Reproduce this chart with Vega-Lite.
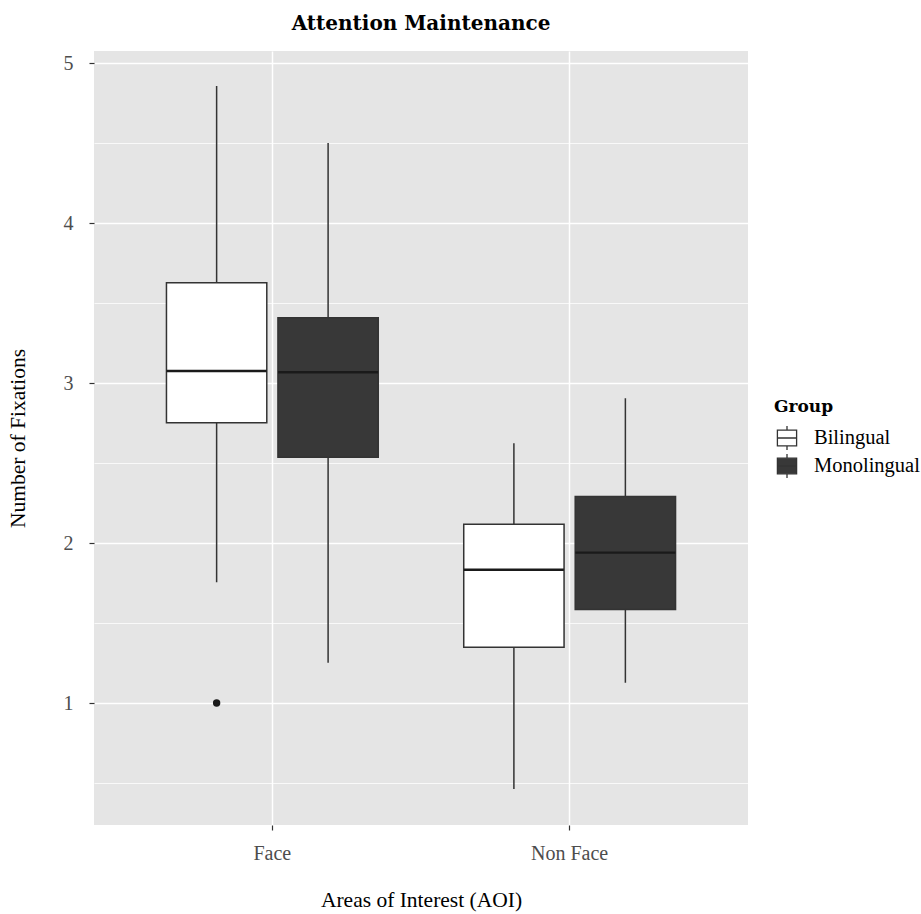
{
  "$schema": "https://vega.github.io/schema/vega-lite/v6.json",
  "width": 654,
  "height": 774,
  "autosize": {"type": "none"},
  "padding": {"left": 94, "top": 51, "right": 173, "bottom": 89},
  "background": "white",
  "title": {
    "text": "Attention Maintenance",
    "font": "DejaVu Serif",
    "fontWeight": "bold",
    "fontSize": 20,
    "color": "#000000",
    "anchor": "middle",
    "frame": "group",
    "baseline": "alphabetic",
    "offset": 1
  },
  "config": {
    "view": {"fill": "#E5E5E5", "stroke": null}
  },
  "datasets": {
    "boxes": [
      {"aoi": "Face", "group": "Bilingual", "lower": 1.754, "q1": 2.752, "median": 3.075, "q3": 3.627, "upper": 4.856},
      {"aoi": "Face", "group": "Monolingual", "lower": 1.252, "q1": 2.536, "median": 3.067, "q3": 3.408, "upper": 4.5},
      {"aoi": "Non Face", "group": "Bilingual", "lower": 0.4625, "q1": 1.348, "median": 1.833, "q3": 2.117, "upper": 2.623},
      {"aoi": "Non Face", "group": "Monolingual", "lower": 1.127, "q1": 1.585, "median": 1.94, "q3": 2.29, "upper": 2.904}
    ],
    "outliers": [
      {"aoi": "Face", "group": "Bilingual", "value": 1.0}
    ]
  },
  "data": {"name": "boxes"},
  "encoding": {
    "x": {
      "field": "aoi",
      "type": "nominal",
      "scale": {"domain": ["Face", "Non Face"], "paddingInner": 0.25, "paddingOuter": 0.225},
      "axis": {
        "labelAngle": 0,
        "grid": true,
        "gridColor": "#FFFFFF",
        "gridWidth": 1.5,
        "bandPosition": 0.5,
        "domain": false,
        "tickColor": "#333333",
        "tickSize": 5,
        "tickWidth": 1.2,
        "labelFont": "Liberation Serif",
        "labelFontSize": 20,
        "labelColor": "#4D4D4D",
        "labelPadding": 13,
        "title": "Areas of Interest (AOI)",
        "titleFont": "Liberation Serif",
        "titleFontSize": 21.5,
        "titleFontWeight": "normal",
        "titleColor": "#000000",
        "titlePadding": 26
      }
    },
    "xOffset": {
      "field": "group",
      "type": "nominal",
      "scale": {"domain": ["Bilingual", "Monolingual"], "paddingInner": 0.1, "paddingOuter": 0.05}
    }
  },
  "layer": [
    {
      "mark": {"type": "rule", "color": "#333333", "strokeWidth": 1.5},
      "encoding": {
        "y": {
          "field": "lower",
          "type": "quantitative",
          "scale": {"domain": [0.2375, 5.075], "nice": false, "zero": false},
          "axis": {
            "orient": "right",
            "values": [0.5, 1.5, 2.5, 3.5, 4.5],
            "grid": true,
            "gridColor": "#FFFFFF",
            "gridWidth": 0.75,
            "labels": false,
            "ticks": false,
            "domain": false,
            "title": null
          }
        },
        "y2": {"field": "upper"}
      }
    },
    {
      "mark": {"type": "bar", "stroke": "#333333", "strokeWidth": 1.5, "opacity": 1},
      "encoding": {
        "y": {
          "field": "q1",
          "type": "quantitative",
          "axis": {
            "values": [1, 2, 3, 4, 5],
            "grid": true,
            "gridColor": "#FFFFFF",
            "gridWidth": 1.5,
            "domain": false,
            "tickColor": "#333333",
            "tickSize": 5,
            "tickWidth": 1.2,
            "labelFont": "Liberation Serif",
            "labelFontSize": 20,
            "labelColor": "#4D4D4D",
            "labelPadding": 16,
            "title": "Number of Fixations",
            "titleFont": "Liberation Serif",
            "titleFontSize": 21.5,
            "titleFontWeight": "normal",
            "titleColor": "#000000",
            "titlePadding": 34
          }
        },
        "y2": {"field": "q3"},
        "fill": {
          "field": "group",
          "type": "nominal",
          "scale": {"domain": ["Bilingual", "Monolingual"], "range": ["#FFFFFF", "#383838"]},
          "legend": {
            "title": "Group",
            "orient": "none",
            "legendX": 680,
            "legendY": 348,
            "padding": 0,
            "titleFont": "DejaVu Serif",
            "titleFontWeight": "bold",
            "titleFontSize": 17,
            "titleColor": "#000000",
            "titlePadding": 9,
            "labelFont": "Liberation Serif",
            "labelFontSize": 20.5,
            "labelColor": "#000000",
            "labelOffset": 14,
            "symbolType": "M-0.8,-0.65H0.8V0.65H-0.8Z M0,-1V-0.65 M0,0.65V1 M-0.8,0H0.8",
            "symbolSize": 576,
            "symbolStrokeColor": "#333333",
            "symbolStrokeWidth": 1.3,
            "symbolOpacity": 1,
            "rowPadding": -7
          }
        }
      }
    },
    {
      "mark": {"type": "tick", "color": "#1A1A1A", "thickness": 2.4, "size": 100, "opacity": 1},
      "encoding": {
        "y": {"field": "median", "type": "quantitative", "axis": null}
      }
    },
    {
      "data": {"name": "outliers"},
      "mark": {"type": "point", "filled": true, "color": "#1A1A1A", "size": 55, "opacity": 1},
      "encoding": {
        "y": {"field": "value", "type": "quantitative", "axis": null}
      }
    }
  ],
  "resolve": {"axis": {"y": "independent"}}
}
